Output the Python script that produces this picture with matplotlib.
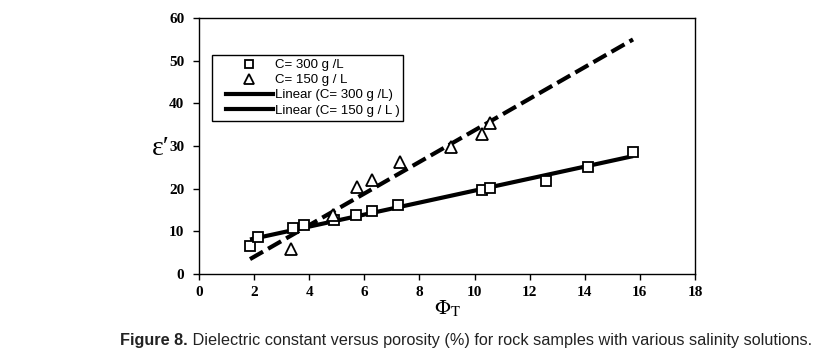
import numpy as np
import matplotlib.pyplot as plt
from matplotlib.legend_handler import HandlerLine2D

# C = 300 g/L samples
phi_300 = [1.85, 2.14, 3.41, 3.81, 4.9, 5.71, 6.29, 7.22, 10.28, 10.57, 12.6, 14.11, 15.75]
eps_300 = [6.5, 8.6, 10.8, 11.4, 12.6, 13.8, 14.8, 16.2, 19.7, 20.2, 21.8, 25.0, 28.6]

# C = 150 g/L samples
phi_150 = [3.35, 4.86, 5.72, 6.29, 7.31, 9.16, 10.28, 10.57]
eps_150 = [5.8, 13.8, 20.4, 22.0, 26.3, 29.8, 32.8, 35.3]

fit_range = [1.85, 15.75]

plt.rcParams['font.family'] = ['Liberation Serif', 'DejaVu Serif']
plt.rcParams['mathtext.fontset'] = 'stix'

fig = plt.figure(figsize=(8.15, 3.55), dpi=100)
ax = fig.add_axes([0.2442, 0.2282, 0.6086, 0.7211])

# linear trend lines
xs = np.linspace(fit_range[0], fit_range[1], 50)
p300 = np.poly1d(np.polyfit(phi_300, eps_300, 1))
p150 = np.poly1d(np.polyfit(phi_150, eps_150, 1))

h1, = ax.plot(phi_300, eps_300, 's', ms=7.2, mfc='white', mec='black', mew=1.3,
              ls='none', label='C= 300 g /L', zorder=3)
h2, = ax.plot(phi_150, eps_150, '^', ms=8.8, mfc='white', mec='black', mew=1.3,
              ls='none', label='C= 150 g / L', zorder=3)
h3, = ax.plot(xs, p300(xs), color='black', lw=3, solid_capstyle='butt',
              label='Linear (C= 300 g /L)', zorder=2)
h4, = ax.plot(xs, p150(xs), color='black', lw=3, dashes=(3.6, 1.4),
              dash_capstyle='butt', label='Linear (C= 150 g / L )', zorder=2)

ax.set_xlim(0, 18)
ax.set_ylim(0, 60)
ax.set_xticks(np.arange(0, 19, 2))
ax.set_yticks(np.arange(0, 61, 10))
ax.tick_params(direction='out', length=4.5, width=1, labelsize=11)
ax.tick_params(axis='y', pad=6)
ax.tick_params(axis='x', pad=4)
for lab in ax.get_xticklabels() + ax.get_yticklabels():
    lab.set_fontweight('bold')
for s in ax.spines.values():
    s.set_linewidth(1)

ax.set_xlabel(r'$\Phi_\mathrm{T}$', fontsize=15)
ax.xaxis.set_label_coords(0.5, -0.095)
ax.set_ylabel('ε′', fontsize=20, rotation=0, va='center')
ax.yaxis.set_label_coords(-0.078, 0.49)

# legend: lines shown solid, shifted in from the box edge
line_handles = [plt.Line2D([], [], color='black', lw=3), plt.Line2D([], [], color='black', lw=3)]
hmap = {h: HandlerLine2D(xpad=0.75) for h in [h1, h2] + line_handles}
leg = ax.legend([h1, h2] + line_handles, [h1.get_label(), h2.get_label(), h3.get_label(), h4.get_label()],
                handler_map=hmap,
                loc='upper left', bbox_to_anchor=(212 / 815, 1 - 55 / 355),
                bbox_transform=fig.transFigure, prop={'family': 'Liberation Sans', 'size': 9.5},
                frameon=True, fancybox=False, edgecolor='black', framealpha=1,
                handlelength=4.3, handletextpad=0.15, labelspacing=0.22, borderpad=0.3,
                borderaxespad=0, markerscale=0.85)
leg.get_frame().set_linewidth(1)

# caption
t1 = fig.text(120 / 815, 1 - 341 / 355, 'Figure 8.', fontsize=11.7, fontweight='bold',
              family='Liberation Sans', color='#222222', va='center')
fig.canvas.draw()
ax.annotate(' Dielectric constant versus porosity (%) for rock samples with various salinity solutions.',
            xy=(1, 0.5), xycoords=t1, va='center', ha='left', fontsize=11.7,
            family='Liberation Sans', color='#222222', annotation_clip=False)

fig.savefig('out.png', dpi=100)
